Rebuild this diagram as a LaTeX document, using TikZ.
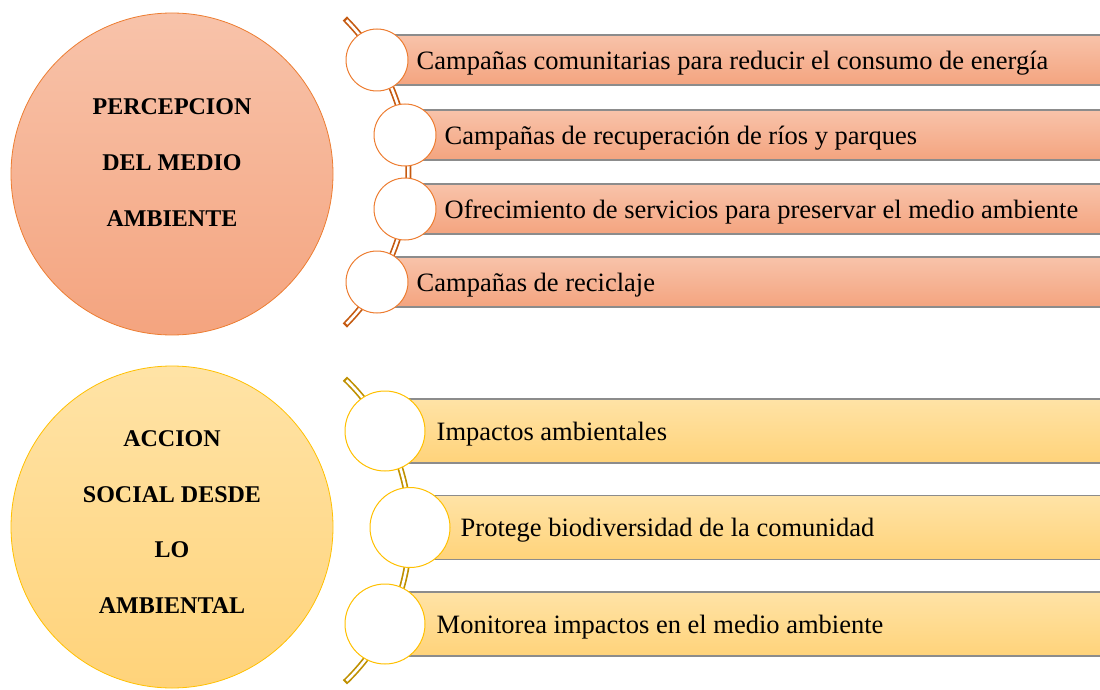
\documentclass[tikz,border=0pt]{standalone}
\usepackage{fontspec}
\setmainfont{Liberation Serif}
\usetikzlibrary{positioning}
\definecolor{rosetop}{HTML}{F8C3AA}
\definecolor{rosebot}{HTML}{F4A47F}
\definecolor{roseedge}{HTML}{ED7D31}
\definecolor{rosespine}{HTML}{C55A11}
\definecolor{goldtop}{HTML}{FFE3A6}
\definecolor{goldbot}{HTML}{FFD37A}
\definecolor{goldedge}{HTML}{FFC000}
\definecolor{goldspine}{HTML}{BF9000}
\definecolor{baredge}{HTML}{8C8C8C}

\tikzset{
  bigcirc/.style={circle, minimum size=322pt, inner sep=0pt, line width=0.8pt},
  headtext/.style={align=center, inner sep=0pt, font=\fontsize{24}{56}\selectfont\bfseries},
  dot/.style={circle, fill=white, line width=1pt, inner sep=0pt},
  bar/.style={rectangle, draw=baredge, line width=1.2pt, inner sep=0pt, anchor=west},
  item/.style={font=\fontsize{26.5}{30}\selectfont, inner sep=0pt, yshift=-3pt},
  spine/.style={line width=6pt},
  spinegap/.style={white, line width=2.6pt},
}

\begin{document}
\begin{tikzpicture}[x=1pt, y=-1pt]
  \useasboundingbox (0,0) rectangle (1100,690);

  % percepcion del medio ambiente
  \coordinate (pcenter) at (191.4,172);
  \draw[spine, rosespine] (pcenter) ++(-45:217) arc[start angle=-45, end angle=45, radius=217];
  \draw[spinegap] (pcenter) ++(-44.4:217) arc[start angle=-44.4, end angle=44.4, radius=217];

  \node[bigcirc, draw=roseedge, top color=rosetop, bottom color=rosebot] (P) at (172,174) {};
  \node[headtext] (Ptext) at (172,163) {PERCEPCION\\DEL MEDIO\\AMBIENTE};

  \node[bar, top color=rosetop, bottom color=rosebot, minimum width=725pt, minimum height=50pt] (pbar1) at (377,60) {};
  \node[bar, top color=rosetop, bottom color=rosebot, minimum width=697pt, minimum height=50pt] (pbar2) at (405,135) {};
  \node[bar, top color=rosetop, bottom color=rosebot, minimum width=697pt, minimum height=50pt] (pbar3) at (405,209) {};
  \node[bar, top color=rosetop, bottom color=rosebot, minimum width=725pt, minimum height=50pt] (pbar4) at (377,282) {};

  \node[dot, draw=roseedge, minimum size=62pt] (p1) at (377,60) {};
  \node[dot, draw=roseedge, minimum size=62pt] (p2) at (405,135) {};
  \node[dot, draw=roseedge, minimum size=62pt] (p3) at (405,209) {};
  \node[dot, draw=roseedge, minimum size=62pt] (p4) at (377,282) {};

  \node[item, right=8pt of p1] (ptext1) {Campañas comunitarias para reducir el consumo de energía};
  \node[item, right=8pt of p2] (ptext2) {Campañas de recuperación de ríos y parques};
  \node[item, right=8pt of p3] (ptext3) {Ofrecimiento de servicios para preservar el medio ambiente};
  \node[item, right=8pt of p4] (ptext4) {Campañas de reciclaje};

  % accion social desde lo ambiental
  \coordinate (acenter) at (199.8,530.5);
  \draw[spine, goldspine] (acenter) ++(-46.3:210) arc[start angle=-46.3, end angle=46.3, radius=210];
  \draw[spinegap] (acenter) ++(-45.7:210) arc[start angle=-45.7, end angle=45.7, radius=210];

  \node[bigcirc, draw=goldedge, top color=goldtop, bottom color=goldbot] (A) at (172,527) {};
  \node[headtext, font=\fontsize{24}{55.5}\selectfont\bfseries] (Atext) at (172,522) {ACCION\\SOCIAL DESDE\\LO\\AMBIENTAL};

  \node[bar, top color=goldtop, bottom color=goldbot, minimum width=717pt, minimum height=64pt] (abar1) at (385,431) {};
  \node[bar, top color=goldtop, bottom color=goldbot, minimum width=692pt, minimum height=64pt] (abar2) at (410,527.5) {};
  \node[bar, top color=goldtop, bottom color=goldbot, minimum width=717pt, minimum height=64pt] (abar3) at (385,624) {};

  \node[dot, draw=goldedge, minimum size=80pt] (a1) at (385,431) {};
  \node[dot, draw=goldedge, minimum size=80pt] (a2) at (410,527.5) {};
  \node[dot, draw=goldedge, minimum size=80pt] (a3) at (385,624) {};

  \node[item, right=11pt of a1] (atext1) {Impactos ambientales};
  \node[item, right=10pt of a2] (atext2) {Protege biodiversidad de la comunidad};
  \node[item, right=11pt of a3] (atext3) {Monitorea impactos en el medio ambiente};
\end{tikzpicture}
\end{document}
